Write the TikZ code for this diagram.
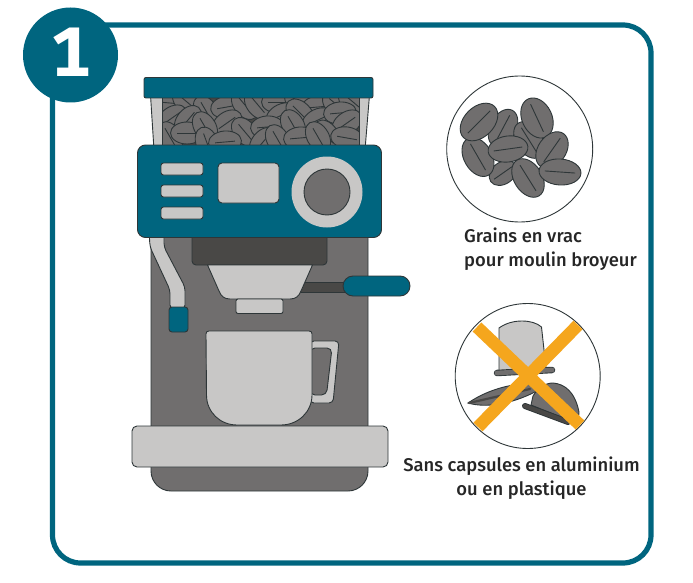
\documentclass[tikz,border=0pt]{standalone}
\usepackage{fontspec}
\setmainfont{Fira Sans}
\newfontfamily\capfont{Fira Sans Medium}
\usepackage{xcolor}
\usetikzlibrary{positioning}
\definecolor{teal1}{HTML}{00657F}
\definecolor{light1}{HTML}{C8C7C6}
\definecolor{mid1}{HTML}{706E6E}
\definecolor{dark1}{HTML}{494846}
\definecolor{edge1}{HTML}{2E3638}
\definecolor{orange1}{HTML}{F5A61D}
\tikzset{
  tealpart/.style={draw=edge1, line width=0.9pt, fill=teal1},
  lightpart/.style={draw=edge1, line width=0.9pt, fill=light1},
  midpart/.style={draw=edge1, line width=0.9pt, fill=mid1},
  darkpart/.style={draw=edge1, line width=0.9pt, fill=dark1},
  beanbody/.style={draw=edge1, line width=0.9pt, fill=mid1},
  beanline/.style={draw=edge1, line width=0.9pt},
  roundel/.style={draw=edge1, line width=0.9pt, fill=white},
  cross/.style={draw=orange1, line width=12.5pt},
  caption/.style={font=\capfont\fontsize{18.4}{24}\selectfont, text=black!85, inner sep=0pt},
}
\begin{document}
\begin{tikzpicture}[x=1pt,y=-1pt]
\useasboundingbox (0,0) rectangle (693,583);
\draw[teal1, line width=5.2pt, rounded corners=28pt] (52.5,25) rectangle (651,563);
\fill[teal1] (70.5,55) circle [radius=47.5pt];
\node[text=white, font=\fontsize{70}{70}\selectfont\bfseries\addfontfeatures{RawFeature={+tnum}}, inner sep=0pt] (stepnum) at (71,52) {1};
% machine
\draw[midpart, rounded corners=20pt] (151,225) -- (151,491) -- (368,491) -- (368,225);
\draw[lightpart] (150.5,95) -- (154,150) -- (365,150) -- (369.5,95) -- cycle;
\fill[dark1] (162,97) rectangle (359,148);
\begin{scope}
\clip (162,97) rectangle (359,147);
\foreach \bx/\by/\ang in {170/103/-5,187/102/-40,206/111/-60,227/107/10,245/105/-50,258/105/-50,278/102/0,300/102/-30,318/107/5,337/105/-40,353/102/-40,
  172/118/35,188/120/50,227/123/35,282/115/25,300/113/-45,318/120/25,340/113/5,347/123/35,
  170/137/-60,187/133/0,205/127/-60,245/132/-50,267/127/5,293/125/-60,327/135/-55,347/138/-10,
  207/143/-70,225/142/5,263/142/50,278/140/-60,300/138/5,318/137/-60}{
  \begin{scope}[shift={(\bx,\by)},rotate=\ang]
  \draw[beanbody] (0,0) ellipse [x radius=16.5pt, y radius=11pt];
  \draw[beanline] (-10,0) -- (10,0);
  \end{scope}
}
\end{scope}
\draw[edge1, line width=0.9pt] (162,97) -- (162,148) (359,97) -- (359,148);
\draw[tealpart, rounded corners=2pt] (144,77.5) rectangle (373,98);
% wand
\draw[lightpart, rounded corners=4pt] (149,230) -- (150,247) -- (170,290) -- (170,309) -- (185,309) -- (185,287) -- (164,247) -- (164,230) -- cycle;
\draw[tealpart, rounded corners=3pt] (169,307) rectangle (188,332);
% brew head
\draw[darkpart, rounded corners=4pt] (192,225) rectangle (327,265);
% panel
\draw[tealpart, rounded corners=8pt] (137.5,145) rectangle (381.5,237.5);
\foreach \by in {163,185,207}{
  \draw[lightpart, rounded corners=2.5pt] (161,\by) rectangle (203,\by+12);
}
\draw[lightpart, rounded corners=4pt] (218,163) rectangle (279,203);
\fill[light1] (327,192) circle [radius=35.5pt];
\draw[midpart] (327,192) circle [radius=23pt];
\draw[darkpart] (300,282) rectangle (350,292);
\draw[lightpart] (207.5,265) -- (219,291) .. controls (221,296) and (224,299) .. (230,299) -- (290,299) .. controls (296,299) and (299,296) .. (301,291) -- (312.5,265) -- cycle;
\draw[lightpart, rounded corners=2pt] (236,299) rectangle (283,313.5);
\draw[tealpart, rounded corners=10pt] (343,276) rectangle (410,296);
% cup
\draw[lightpart, rounded corners=4pt] (310,341) -- (339,341) -- (333,403) -- (310,403) -- cycle;
\draw[midpart, rounded corners=5pt] (310,348) -- (332,348) -- (326.5,395) -- (310,395) -- cycle;
\draw[lightpart] (209,331) -- (309,331) .. controls (311,331) and (312,332) .. (312,334) -- (312,395) .. controls (312,412) and (298,425) .. (281,425) -- (237,425) .. controls (220,425) and (206.5,412) .. (206.5,395) -- (206,334) .. controls (206,332) and (207,331) .. (209,331) -- cycle;
\draw[lightpart, rounded corners=5pt] (132,426) rectangle (388,467);
% beans
\draw[roundel] (519.7,149) circle [radius=73pt];
\foreach \bx/\by/\ang/\len/\wid in {503/173/35/15/11,503/128/62/20/13,478/157/-60/21/14,479/122/45/22/15,529/140/-58/20/13,508/149/8/20/13,537/118/-65/21/15,552/150/55/20/14,528/178/-58/21/14,560/172/-4/21/13}{
  \begin{scope}[shift={(\bx,\by)},rotate=\ang]
  \draw[beanbody] (0,0) ellipse [x radius=\len pt, y radius=\wid pt];
  \draw[beanline] (-0.72*\len,0) -- (0.72*\len,0);
  \end{scope}
}
\node[caption, align=left, anchor=north west] (graintext) at (464,228) {Grains en vrac\\pour moulin broyeur};
% capsules
\draw[roundel] (527.7,376) circle [radius=72.5pt];
\draw[lightpart] (499,371) -- (499,328) .. controls (506,323) and (514,321) .. (522,321) .. controls (530,321) and (537,323) .. (541.5,327) -- (546,368) -- cycle;
\draw[edge1, line width=6.5pt, line cap=round] (497,373) -- (552,370);
\draw[mid1, line width=4.7pt, line cap=round] (497,373) -- (552,370);
\draw[midpart] (468,403) .. controls (490,388) and (515,383) .. (537,383) -- (537,391) .. controls (510,405) and (485,408) .. (468,403) -- cycle;
\draw[dark1, line width=2.2pt, line cap=round] (469,403) -- (530,389);
\draw[midpart] (531,405) -- (533,396) .. controls (538,388) and (545,383) .. (553,383) .. controls (565,384) and (575,392) .. (579,412) -- (578,424) -- cycle;
\draw[edge1, line width=6pt, line cap=round] (525,406) -- (568,422);
\draw[dark1, line width=4.2pt, line cap=round] (525,406) -- (568,422);
\draw[cross] (477,327) -- (580,425);
\draw[cross] (578,325) -- (478,427);
\node[caption, align=center, anchor=north] (capsuletext) at (521.5,457) {Sans capsules en aluminium\\ou en plastique};
\end{tikzpicture}
\end{document}
